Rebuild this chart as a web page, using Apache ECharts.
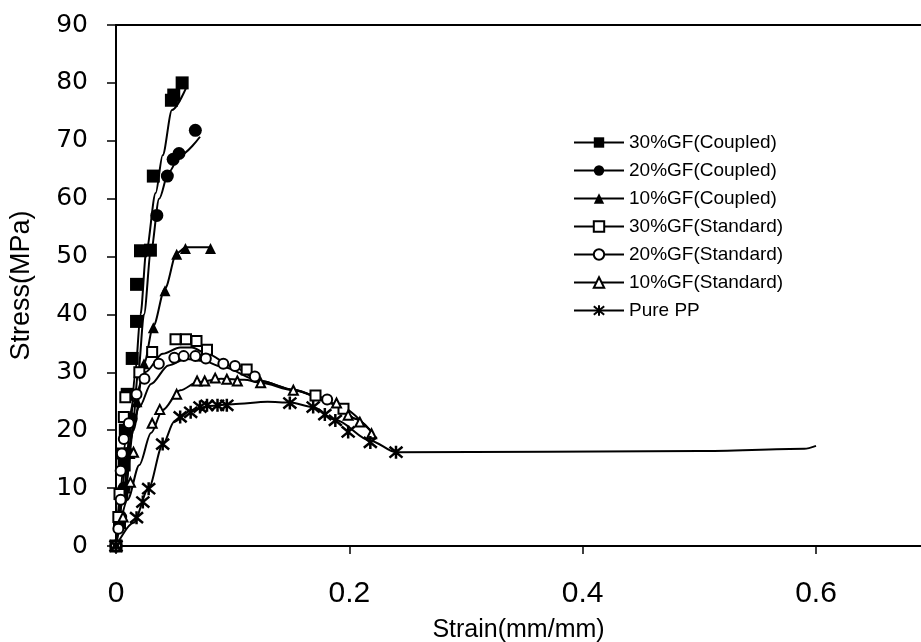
<!DOCTYPE html>
<html><head><meta charset="utf-8">
<script src="https://cdn.jsdelivr.net/npm/echarts@6/dist/echarts.min.js"></script>
<style>html,body{margin:0;padding:0;background:#fff}#c{width:921px;height:642px}</style>
</head><body><div id="c"></div>
<script>
// ---- data (strain mm/mm, stress MPa) ----
const seriesNames = ['30%GF(Coupled)','20%GF(Coupled)','10%GF(Coupled)','30%GF(Standard)','20%GF(Standard)','10%GF(Standard)','Pure PP'];

const coupled30Points = [[0,0],[0.003,4],[0.005,9],[0.007,14],[0.008,20],[0.0096,26.2],[0.0139,32.4],[0.0176,38.8],[0.0176,45.2],[0.021,51.0],[0.0295,51.1],[0.032,63.9],[0.0475,77.0],[0.0495,77.9],[0.0567,80.0]];
const coupled30Curve = [[0,0],[0.007,10],[0.012,20],[0.0165,30],[0.021,40],[0.026,51],[0.034,61],[0.040,67.5],[0.048,75.3],[0.0605,79.3]];

const coupled20Points = [[0,0],[0.004,5],[0.007,10],[0.010,16],[0.013,22],[0.035,57.1],[0.044,63.9],[0.049,66.8],[0.054,67.8],[0.068,71.8]];
const coupled20Curve = [[0,0],[0.008,10],[0.014,20],[0.019,30],[0.024,40],[0.030,51],[0.037,60],[0.045,64.5],[0.055,67.5],[0.072,70.7]];

const coupled10Points = [[0,0],[0.004,5],[0.008,10],[0.012,16],[0.018,24.9],[0.024,31.5],[0.032,37.7],[0.042,44.1],[0.052,50.4],[0.0595,51.4],[0.081,51.4]];
const coupled10Curve = [[0,0],[0.008,10],[0.015,20],[0.024,31.5],[0.032,38],[0.042,44.5],[0.052,50.6],[0.060,51.6],[0.081,51.6]];

const standard30Points = [[0,0],[0.002,5],[0.003,9],[0.005,16],[0.0067,22.3],[0.008,25.7],[0.020,30],[0.031,33.5],[0.051,35.7],[0.060,35.7],[0.069,35.4],[0.078,33.9],[0.112,30.5],[0.171,26.0],[0.195,23.7]];
const standard30Curve = [[0,0],[0.004,10],[0.008,18],[0.015,25],[0.025,30],[0.040,33.2],[0.055,34.3],[0.065,34.3],[0.078,33.2],[0.100,31],[0.124,28.5],[0.152,27],[0.189,24.5],[0.220,19.5]];

const standard20Points = [[0,0],[0.002,3],[0.004,8],[0.004,13],[0.005,16],[0.0067,18.5],[0.011,21.2],[0.0176,26.2],[0.0244,28.9],[0.0367,31.5],[0.050,32.5],[0.058,32.8],[0.068,32.8],[0.077,32.4],[0.092,31.5],[0.102,31.1],[0.119,29.3],[0.181,25.3]];
const standard20Curve = [[0,0],[0.005,10],[0.010,17],[0.020,24],[0.030,28],[0.045,31.2],[0.060,32.3],[0.075,32],[0.090,31],[0.124,28.5],[0.152,27.0],[0.171,26],[0.189,24.5],[0.205,22],[0.220,19.5]];

const standard10Points = [[0,0],[0.006,5],[0.0124,11.0],[0.015,16.2],[0.031,21.2],[0.0375,23.6],[0.052,26.2],[0.0695,28.5],[0.076,28.5],[0.085,29.0],[0.095,28.8],[0.104,28.5],[0.124,28.2],[0.152,26.9],[0.189,24.7],[0.199,22.6],[0.209,21.4],[0.219,19.4]];
const standard10Curve = [[0,0],[0.010,8],[0.020,14],[0.030,19.5],[0.040,23.5],[0.055,26.9],[0.070,28.3],[0.090,28.9],[0.110,28.7],[0.124,28.2],[0.152,26.9],[0.189,24.5],[0.205,22],[0.220,19.5]];

const purePPPoints = [[0,0],[0.0176,4.9],[0.023,7.6],[0.028,9.9],[0.040,17.6],[0.055,22.3],[0.064,23.1],[0.072,24.0],[0.078,24.3],[0.087,24.3],[0.095,24.3],[0.149,24.7],[0.169,24.0],[0.179,22.7],[0.188,21.7],[0.199,19.7],[0.218,17.9],[0.240,16.2]];
const purePPCurve = [[0,0],[0.015,4],[0.028,10],[0.040,17.5],[0.050,21.5],[0.065,23.5],[0.080,24.2],[0.100,24.5],[0.130,24.9],[0.149,24.8],[0.169,24.0],[0.188,21.8],[0.218,18.2],[0.240,16.2],[0.500,16.4],[0.590,16.8],[0.600,17.3]];

const xTicks = {min:0, max:0.69, interval:0.2};
const yTicks = {min:0, max:90, interval:10};

// ---- styling ----
const star = 'path://M0,0L10,10M10,0L0,10M5,-1L5,11';
const defs = [
  [coupled30Curve, coupled30Points, 'rect', 13, 'filled'],
  [coupled20Curve, coupled20Points, 'circle', 13, 'filled'],
  [coupled10Curve, coupled10Points, 'triangle', 11, 'filled'],
  [standard30Curve, standard30Points, 'rect', 10, 'open'],
  [standard20Curve, standard20Points, 'circle', 10, 'open'],
  [standard10Curve, standard10Points, 'triangle', 9, 'open'],
  [purePPCurve, purePPPoints, star, 13, 'star']
];
function styleFor(kind) {
  return kind === 'filled' ? {color:'#000', borderWidth:0, opacity:1}
    : kind === 'open' ? {color:'#fff', borderColor:'#000', borderWidth:2, opacity:1}
    : {color:'rgba(0,0,0,0)', borderColor:'#000', borderWidth:2.5, opacity:1};
}
const series = [];
defs.forEach((d, i) => {
  series.push({
    type:'line', name: seriesNames[i], data: d[0], smooth:0.3, smoothMonotone:'x',
    showSymbol:false, symbol:d[2], symbolSize:d[3], itemStyle: styleFor(d[4]),
    lineStyle:{color:'#000', width:2}, z:2, silent:true
  });
});
defs.forEach((d, i) => {
  series.push({
    type:'scatter', name: seriesNames[i], data: d[1], symbol:d[2], symbolSize:d[3],
    itemStyle: styleFor(d[4]), z:3, silent:true
  });
});

const chart = echarts.init(document.getElementById('c'), null, {renderer:'canvas'});
chart.setOption({
  animation:false,
  backgroundColor:'#fff',
  grid:{left:116, right:0, top:25, bottom:96, show:false, containLabel:false, outerBoundsMode:'none'},
  legend:{
    orient:'vertical', left:573, top:133, padding:0, itemWidth:50, itemHeight:13, itemGap:9,
    selectedMode:false, data: seriesNames,
    textStyle:{fontFamily:'Liberation Sans, Arial', fontSize:19, color:'#000', lineHeight:19}
  },
  xAxis:[{
    type:'value', min:xTicks.min, max:xTicks.max, interval:xTicks.interval,
    name:'Strain(mm/mm)', nameLocation:'middle', nameGap:72,
    nameTextStyle:{fontFamily:'Liberation Sans, Arial', fontSize:25, color:'#000'},
    axisLine:{show:true, lineStyle:{color:'#000', width:2}},
    axisTick:{show:true, inside:false, length:8, lineStyle:{color:'#000', width:1.5}},
    axisLabel:{margin:33, fontFamily:'Liberation Sans, Arial', fontSize:30, color:'#000', showMaxLabel:false},
    splitLine:{show:false}
  },{
    type:'value', position:'top', min:xTicks.min, max:xTicks.max, interval:xTicks.interval,
    axisLine:{show:true, lineStyle:{color:'#000', width:2}},
    axisTick:{show:false}, axisLabel:{show:false}, splitLine:{show:false}
  }],
  yAxis:{
    type:'value', min:yTicks.min, max:yTicks.max, interval:yTicks.interval,
    name:'Stress(MPa)', nameLocation:'middle', nameGap:81, nameRotate:90,
    nameTextStyle:{fontFamily:'Liberation Sans, Arial', fontSize:27, color:'#000'},
    axisLine:{show:true, lineStyle:{color:'#000', width:2}},
    axisTick:{show:true, inside:false, length:9, lineStyle:{color:'#000', width:1.5}},
    axisLabel:{margin:28, fontFamily:'DejaVu Sans', fontSize:25, color:'#000'},
    splitLine:{show:false}
  },
  series: series
});
</script>
</body></html>
